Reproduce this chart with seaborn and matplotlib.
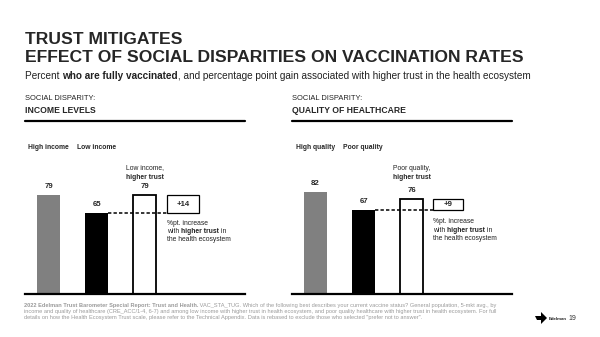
import matplotlib
matplotlib.use("Agg")
import matplotlib.pyplot as plt
from matplotlib.transforms import Affine2D
from matplotlib.patches import Rectangle, Polygon
import seaborn as sns
import pandas as pd

# ---------------- data ----------------
income_cats = ["High income", "Low income", "Low income, higher trust"]
income_vals = [79, 65, 79]
income_gain = 14
quality_cats = ["High quality", "Poor quality", "Poor quality, higher trust"]
quality_vals = [82, 67, 76]
quality_gain = 9

title_lines = ["TRUST MITIGATES", "EFFECT OF SOCIAL DISPARITIES ON VACCINATION RATES"]
panel_kicker = "SOCIAL DISPARITY:"
panel_titles = ["INCOME LEVELS", "QUALITY OF HEALTHCARE"]
footer_lines = [
    [("2022 Edelman Trust Barometer Special Report: Trust and Health.", "bold"),
     (" VAC_STA_TUG. Which of the following best describes your current vaccine status? General population, 5-mkt avg., by", "normal")],
    [("income and quality of healthcare (CRE_ACC/1-4, 6-7) and among low income with higher trust in health ecosystem, and poor quality healthcare with higher trust in health ecosystem. For full", "normal")],
    [("details on how the Health Ecosystem Trust scale, please refer to the Technical Appendix. Data is rebased to exclude those who selected \"prefer not to answer\".", "normal")],
]

sns.set_theme(style="white")
plt.rcParams["font.family"] = ["Liberation Sans", "DejaVu Sans"]

W, H = 600, 337
fig = plt.figure(figsize=(6, 3.37), dpi=100)
fig.patch.set_facecolor("white")
PX = Affine2D().scale(1 / W, -1 / H).translate(0, 1) + fig.transFigure


def rich(parts, x, y, size, color="black", transform=PX):
    prev = None
    for txt, weight in parts:
        if prev is None:
            prev = fig.text(x, y, txt, fontsize=size, fontweight=weight, color=color,
                            ha="left", va="baseline", transform=transform)
        else:
            prev = fig.add_artist(matplotlib.text.Annotation(
                txt, xy=(1, 0), xycoords=prev, fontsize=size, fontweight=weight,
                color=color, ha="left", va="bottom"))
    return prev


# ---------------- header ----------------
fig.text(25, 44, title_lines[0], fontsize=12.6, fontweight="bold", transform=PX, va="baseline")
fig.text(25, 62, title_lines[1], fontsize=12.6, fontweight="bold", transform=PX, va="baseline")
rich([("Percent ", "normal"), ("who are fully vaccinated", "bold"),
      (", and percentage point gain associated with higher trust in the health ecosystem", "normal")],
     25, 79, 7.2, color="#222222")

panel_x = [25, 292]
for px0, pt in zip(panel_x, panel_titles):
    fig.text(px0, 100.5, panel_kicker, fontsize=5.4, transform=PX, va="baseline", color="#222222")
    fig.text(px0, 113.3, pt, fontsize=6.2, fontweight="bold", transform=PX, va="baseline")
    fig.add_artist(plt.Line2D([px0, px0 + 220], [120.8, 120.8], transform=PX, color="black", lw=1.6))

# ---------------- panels ----------------
panels = [
    dict(cats=income_cats, vals=income_vals, gain=income_gain, x0=25,
         heads=[("High income", 28), ("Low income", 77)],
         ann=["Low income,", "higher trust"], boxx=2.47, boxw=0.665,
         note_y=[222.7, 230.7, 238.7]),
    dict(cats=quality_cats, vals=quality_vals, gain=quality_gain, x0=292,
         heads=[("High quality", 296), ("Poor quality", 343)],
         ann=["Poor quality,", "higher trust"], boxx=2.45, boxw=0.62,
         note_y=[221.3, 229.5, 237.7]),
]
colors = ["#808080", "#000000", "#ffffff"]

for p in panels:
    ax = fig.add_axes([p["x0"] / W, (H - 294) / H, 220 / W, 125 / H])
    df = pd.DataFrame({"cat": p["cats"], "val": p["vals"]})
    sns.barplot(data=df, x="cat", y="val", hue="cat", order=p["cats"], hue_order=p["cats"],
                palette=colors, width=0.48, legend=False, ax=ax, saturation=1)
    for i, patch in enumerate(ax.patches):
        patch.set_linewidth(0)
        if i == 2:
            patch.set_edgecolor("black")
            patch.set_linewidth(1.3)
    ax.set_ylim(0, 100)
    ax.set_xlim(-0.49, 4.09)
    for c in ax.containers:
        ax.bar_label(c, fmt="%d", padding=3.5, fontsize=5.6, fontweight="bold")
    for s in ["top", "left", "right"]:
        ax.spines[s].set_visible(False)
    ax.spines["bottom"].set_linewidth(1.6)
    ax.spines["bottom"].set_color("black")
    ax.set_xticks([])
    ax.set_yticks([])
    ax.set_xlabel("")
    ax.set_ylabel("")
    ax.patch.set_alpha(0)

    lo, hi = p["vals"][1], p["vals"][2]
    ax.plot([1 + 0.24, p["boxx"]], [lo, lo], color="black", lw=1.1,
            ls=(0, (2.2, 1.4)), zorder=5, clip_on=False)
    ax.add_patch(Rectangle((p["boxx"], lo), p["boxw"], hi - lo, facecolor="white",
                           edgecolor="black", lw=0.9, zorder=6, clip_on=False))
    ax.text(p["boxx"] + p["boxw"] / 2, (lo + hi) / 2, f"+{p['gain']}", ha="center", va="center",
            fontsize=5.6, fontweight="bold", zorder=7)

    ann_x = p["x0"] + (2 + 0.49) / 4.58 * 220
    fig.text(ann_x, 169.5, p["ann"][0], ha="center", va="baseline", fontsize=4.9,
             color="#222222", transform=PX)
    fig.text(ann_x, 179, p["ann"][1], ha="center", va="baseline", fontsize=4.9,
             fontweight="bold", transform=PX)

    for name, hx in p["heads"]:
        fig.text(hx, 149, name, fontsize=4.9, fontweight="bold", transform=PX, va="baseline")

    note_x = p["x0"] + (p["boxx"] + 0.49) / 4.58 * 220
    fig.text(note_x, p["note_y"][0] + 2, "%pt. increase", fontsize=4.9, transform=PX,
             va="baseline", color="#222222")
    rich([("with ", "normal"), ("higher trust", "bold"), (" in", "normal")],
         note_x, p["note_y"][1] + 2, 4.9, color="#222222")
    fig.text(note_x, p["note_y"][2] + 2, "the health ecosystem", fontsize=4.9, transform=PX,
             va="baseline", color="#222222")

# ---------------- footer ----------------
for i, line in enumerate(footer_lines):
    rich(line, 24, 307.5 + i * 5.6, 4.1, color="#9a9a9a")

fig.add_artist(Polygon([[535, 316], [541, 316], [541, 312], [547, 318], [541, 324], [541, 320], [537, 320]],
                       closed=True, transform=PX, facecolor="black", edgecolor="none"))
fig.text(549, 319.5, "Edelman", fontsize=3.2, fontweight="bold", transform=PX, va="baseline")
fig.text(568, 320, "19", fontsize=5, transform=PX, va="baseline", color="#333333")

fig.savefig("out.png", dpi=100, facecolor="white")
